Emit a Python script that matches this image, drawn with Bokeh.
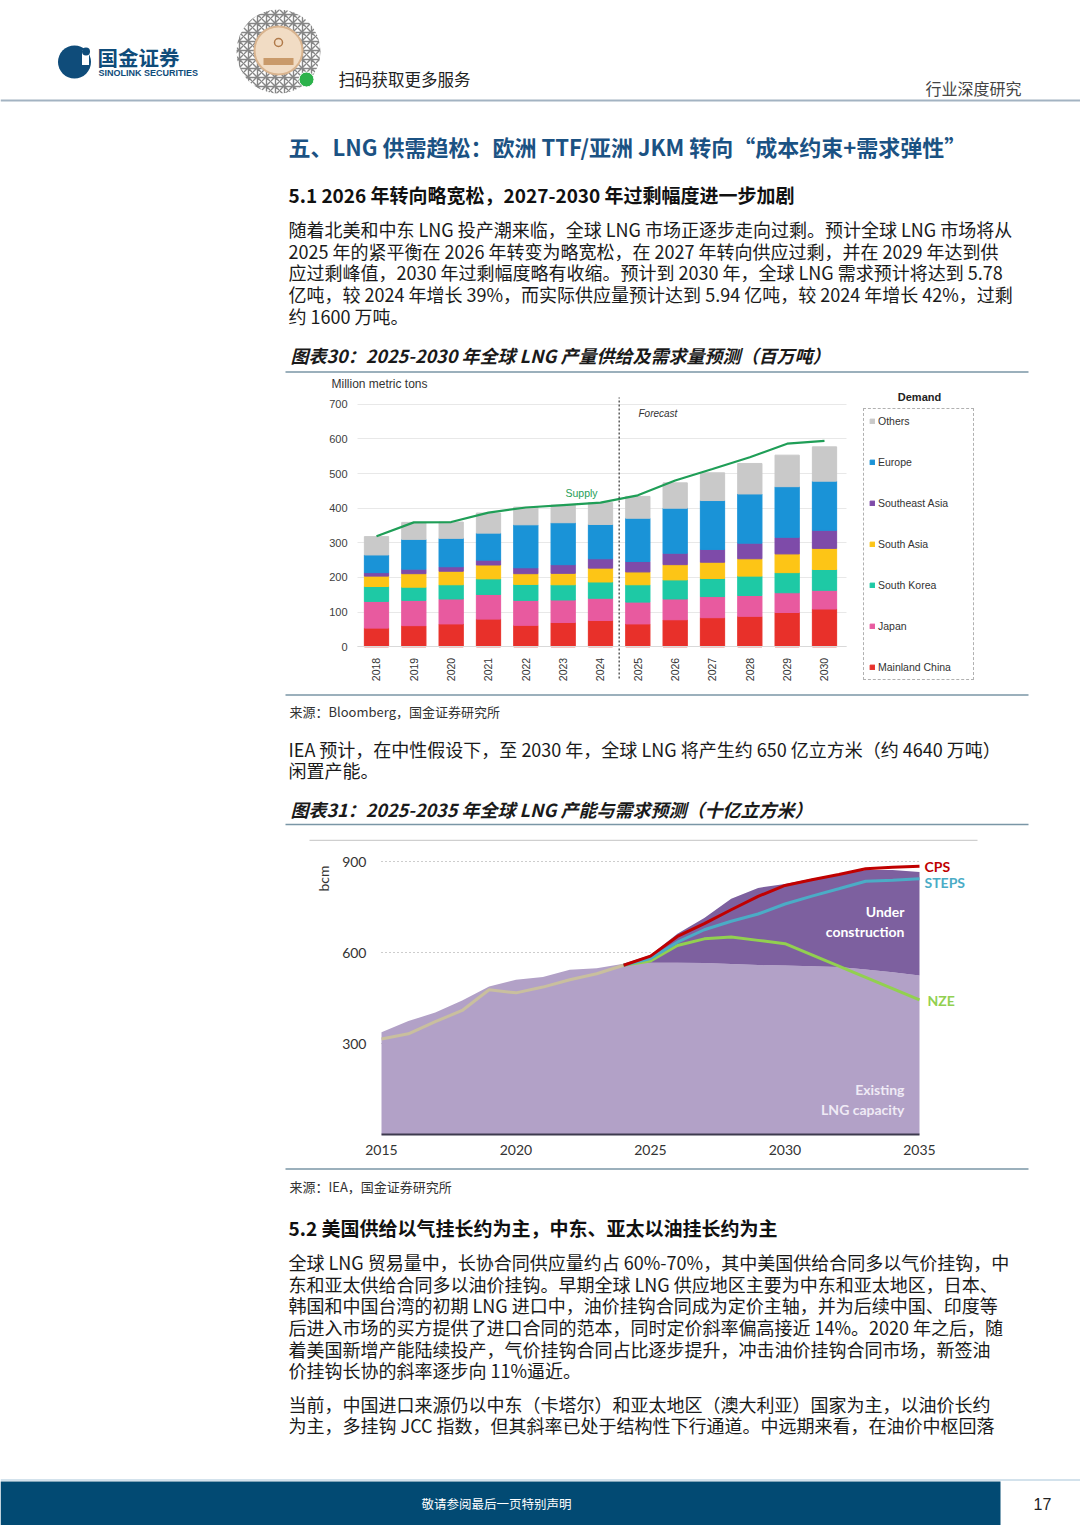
import math
from bokeh.plotting import figure
from bokeh.layouts import column, row
from bokeh.models import Range1d, ColumnDataSource, Legend, LegendItem, Label
from bokeh.core.properties import value
from bokeh.embed import file_html
from bokeh.resources import INLINE

CJK = "Noto Sans CJK SC"
ARIAL = "Liberation Sans"
CAL = "Lato"

# ---------------- Chart 30 data (million metric tons) ----------------
years_30 = [2018, 2019, 2020, 2021, 2022, 2023, 2024, 2025, 2026, 2027, 2028, 2029, 2030]
mainland_china = [54, 61, 66, 80, 62, 70, 76, 66, 78, 84, 88, 99, 109]
japan = [77, 73, 72, 71, 72, 65, 64, 63, 60, 61, 60, 57, 54]
south_korea = [43, 38, 41, 45, 46, 44, 47, 50, 55, 52, 56, 58, 60]
south_asia = [30, 39, 39, 40, 31, 33, 40, 37, 44, 47, 50, 54, 61]
southeast_asia = [10, 13, 13, 14, 17, 25, 27, 30, 33, 37, 45, 48, 52]
europe = [51, 86, 82, 78, 124, 121, 99, 125, 130, 141, 142, 146, 142]
others = [53, 49, 47, 58, 51, 51, 63, 63, 73, 80, 88, 91, 99]
supply = [319, 359, 360, 387, 402, 409, 416, 437, 480, 513, 547, 586, 594]
first_forecast_year = 2025
demand_names = ["Mainland China", "Japan", "South Korea", "South Asia", "Southeast Asia", "Europe", "Others"]
demand_colors = ["#e8302a", "#e85a9f", "#1ec9a5", "#fdc516", "#7e4ba9", "#1a93d7", "#c9c9c9"]
y_ticks_30 = [0, 100, 200, 300, 400, 500, 600, 700]

# ---------------- Chart 31 data (bcm) ----------------
cap_years = list(range(2015, 2036))
existing_capacity = [337, 374, 402, 442, 488, 510, 519, 543, 548, 563, 566, 566, 565, 562, 559, 557, 555, 552, 544, 535, 524]
uc_years = list(range(2024, 2036))
total_capacity = [563, 592, 662, 714, 777, 813, 826, 843, 859, 872, 872, 865]
hist_years = list(range(2015, 2025))
hist_demand = [315, 332, 372, 409, 477, 467, 486, 510, 530, 558]
scen_years = list(range(2024, 2036))
cps = [558, 588, 653, 695, 741, 785, 821, 840, 857, 876, 881, 884]
steps = [558, 580, 634, 675, 703, 727, 760, 786, 810, 835, 838, 843]
nze = [558, 572, 623, 645, 651, 640, 629, 592, 555, 518, 481, 444]
x_ticks_31 = [2015, 2020, 2025, 2030, 2035]
y_ticks_31 = [300, 600, 900]

# ---------------- page texts ----------------
title_text = "五、LNG 供需趋松：欧洲 TTF/亚洲 JKM 转向“成本约束+需求弹性”"
heading_51 = "5.1 2026 年转向略宽松，2027-2030 年过剩幅度进一步加剧"
para_1 = [
    "随着北美和中东 LNG 投产潮来临，全球 LNG 市场正逐步走向过剩。预计全球 LNG 市场将从",
    "2025 年的紧平衡在 2026 年转变为略宽松，在 2027 年转向供应过剩，并在 2029 年达到供",
    "应过剩峰值，2030 年过剩幅度略有收缩。预计到 2030 年，全球 LNG 需求预计将达到 5.78",
    "亿吨，较 2024 年增长 39%，而实际供应量预计达到 5.94 亿吨，较 2024 年增长 42%，过剩",
    "约 1600 万吨。",
]
caption_30 = "图表30：2025-2030 年全球 LNG 产量供给及需求量预测（百万吨）"
source_30 = "来源：Bloomberg，国金证券研究所"
para_iea = [
    "IEA 预计，在中性假设下，至 2030 年，全球 LNG 将产生约 650 亿立方米（约 4640 万吨）",
    "闲置产能。",
]
caption_31 = "图表31：2025-2035 年全球 LNG 产能与需求预测（十亿立方米）"
source_31 = "来源：IEA，国金证券研究所"
heading_52 = "5.2 美国供给以气挂长约为主，中东、亚太以油挂长约为主"
para_2 = [
    "全球 LNG 贸易量中，长协合同供应量约占 60%-70%，其中美国供给合同多以气价挂钩，中",
    "东和亚太供给合同多以油价挂钩。早期全球 LNG 供应地区主要为中东和亚太地区，日本、",
    "韩国和中国台湾的初期 LNG 进口中，油价挂钩合同成为定价主轴，并为后续中国、印度等",
    "后进入市场的买方提供了进口合同的范本，同时定价斜率偏高接近 14%。2020 年之后，随",
    "着美国新增产能陆续投产，气价挂钩合同占比逐步提升，冲击油价挂钩合同市场，新签油",
    "价挂钩长协的斜率逐步向 11%逼近。",
]
para_3 = [
    "当前，中国进口来源仍以中东（卡塔尔）和亚太地区（澳大利亚）国家为主，以油价长约",
    "为主，多挂钩 JCC 指数，但其斜率已处于结构性下行通道。中远期来看，在油价中枢回落",
]

PAGE_W = 1080
BODY = "18px"
HEAD = "19px"
CAPT = "18px"
SEC_LINE = "#7a96a6"


def page_fig(top, bottom):
    f = figure(width=PAGE_W, height=bottom - top, x_range=Range1d(0, PAGE_W),
               y_range=Range1d(bottom, top), output_backend="svg",
               toolbar_location=None, min_border=0, x_axis_type=None, y_axis_type=None)
    f.outline_line_color = None
    f.background_fill_color = "white"
    f.border_fill_color = "white"
    for g in f.grid:
        g.visible = False
    return f


def txt(f, xs, ys, texts, size, color="#1a1a1a", font=CJK, style="normal", align="left"):
    f.text(x=xs, y=ys, text=texts, text_font=value(font), text_font_size=size,
           text_color=color, text_font_style=style, text_align=align, text_baseline="middle")


def hline(f, x0, x1, y, color=SEC_LINE, width=1.5):
    f.segment(x0=[x0], y0=[y], x1=[x1], y1=[y], line_color=color, line_width=width)


# ================= F1: header + section 5.1 =================
f1 = page_fig(0, 373)
f1.circle(x=[74], y=[61.5], radius=16.5, fill_color="#0f4c7a", line_color=None)
f1.rect(x=[85], y=[57], width=7, height=15, fill_color="white", line_color=None)
f1.circle(x=[85.5], y=[51], radius=4, fill_color="#0f4c7a", line_color=None)
txt(f1, [97], [56], ["国金证券"], "20.5px", color="#0f4c7a", style="bold")
txt(f1, [98], [72], ["SINOLINK SECURITIES"], "9px", color="#0f4c7a", font=ARIAL, style="bold")
f1.circle(x=[278], y=[51], radius=42, fill_color="white", line_color=None,
          hatch_pattern="criss_cross", hatch_color="#222222", hatch_scale=9, hatch_weight=1.4, hatch_alpha=0.55)
f1.circle(x=[278], y=[50], radius=24, fill_color="#f1dcc4", line_color="#d9b48f", line_width=2)
f1.circle(x=[278], y=[42], radius=4, fill_color=None, line_color="#b07a4a", line_width=1.5)
f1.rect(x=[278], y=[61], width=30, height=7, fill_color="#c99a6a", line_color=None)
f1.circle(x=[306], y=[79], radius=7.5, fill_color="#2cb24b", line_color="white", line_width=1)
txt(f1, [338], [78], ["扫码获取更多服务"], "16.5px", color="#222222")
txt(f1, [925], [87], ["行业深度研究"], "16px", color="#444444")
hline(f1, 0, PAGE_W, 100, color="#a3b3c2", width=2)
txt(f1, [288], [145], [title_text], "22px", color="#1b5283", style="bold")
txt(f1, [288], [194], [heading_51], HEAD, color="#111111", style="bold")
txt(f1, [288] * 5, [228, 250, 271.5, 293, 315], para_1, BODY)
txt(f1, [290], [354], [caption_30], CAPT, color="#1a1a1a", style="bold italic")
hline(f1, 285, 1028, 371.5)

# ================= F2: chart 30 (frame = whole canvas) =================
F2_TOP, F2_BOT = 373, 693
X30_PX0, X30_STEP = 376.0, 37.333      # page px of first year, px per year
Y30_ZERO, Y30_SCALE = 646.3, 242.6 / 700.0


def fx30(px):
    return years_30[0] + (px - X30_PX0) / X30_STEP


def fy30(py):
    return (Y30_ZERO - py) / Y30_SCALE


f2 = figure(width=PAGE_W, height=F2_BOT - F2_TOP, output_backend="svg", toolbar_location=None,
            x_range=Range1d(fx30(0), fx30(PAGE_W)), y_range=Range1d(fy30(F2_BOT), fy30(F2_TOP)),
            min_border=0)
f2.outline_line_color = None
f2.background_fill_color = "white"
f2.border_fill_color = "white"
for g in f2.grid:
    g.visible = False
src30 = ColumnDataSource(dict(year=years_30, **{
    "Mainland China": mainland_china, "Japan": japan, "South Korea": south_korea,
    "South Asia": south_asia, "Southeast Asia": southeast_asia, "Europe": europe, "Others": others}))
bars = f2.vbar_stack(demand_names, x="year", width=0.65, color=demand_colors, source=src30)
f2.line(years_30, supply, line_color="#1f9e57", line_width=2.2)
divider = (first_forecast_year - 1 + first_forecast_year) / 2
f2.segment(x0=[divider], x1=[divider], y0=[fy30(678)], y1=[fy30(397)],
           line_color="#333333", line_dash="2 2", line_width=1.2)

xa = f2.xaxis[0]
xa.fixed_location = 0
xa.bounds = (fx30(357), fx30(846))
xa.ticker = years_30
xa.major_label_orientation = math.pi / 2
xa.major_label_text_font = ARIAL
xa.major_label_text_font_size = "10.5px"
xa.major_label_text_color = "#333333"
xa.major_label_standoff = 5
xa.axis_line_color = "#d9d9d9"
xa.major_tick_line_color = None
xa.minor_tick_line_color = None
ya = f2.yaxis[0]
ya.fixed_location = fx30(357)
ya.bounds = (0, 700)
ya.ticker = y_ticks_30
ya.level = "underlay"
ya.major_label_text_font = ARIAL
ya.major_label_text_font_size = "11px"
ya.major_label_text_color = "#404040"
ya.major_label_standoff = 10
ya.axis_line_color = None
ya.major_tick_in = 846 - 357      # ticks drawn across the plot act as the horizontal grid
ya.major_tick_out = 0
ya.major_tick_line_color = "#e8e8e8"
ya.minor_tick_line_color = None

f2.add_layout(Label(x=fx30(331), y=fy30(383), text="Million metric tons", text_font=ARIAL,
                    text_font_size="12px", text_color="#333333", text_baseline="middle"))
f2.add_layout(Label(x=fx30(638), y=fy30(413), text="Forecast", text_font=ARIAL, text_font_style="italic",
                    text_font_size="10px", text_color="#333333", text_baseline="middle"))
f2.add_layout(Label(x=fx30(581), y=fy30(492), text="Supply", text_font=ARIAL, text_align="center",
                    text_font_size="10.5px", text_color="#1f9e57", text_baseline="middle"))
f2.add_layout(Label(x=fx30(919), y=fy30(396), text="Demand", text_font=ARIAL, text_font_style="bold",
                    text_align="center", text_font_size="11px", text_color="#222222", text_baseline="middle"))
items = [LegendItem(label=n, renderers=[r]) for n, r in zip(demand_names, bars)][::-1]
leg = Legend(items=items, location=(863, F2_BOT - 680), glyph_width=6, glyph_height=6, label_height=14,
             spacing=27, padding=5, margin=0, label_standoff=3, label_width=90,
             label_text_font=ARIAL, label_text_font_size="10.5px", label_text_color="#333333",
             border_line_color="#666666", border_line_dash="1 1", border_line_width=1,
             background_fill_color="white", background_fill_alpha=1)
f2.add_layout(leg)

# ================= F3: source 30 + IEA text + caption 31 =================
f3 = page_fig(693, 841)
hline(f3, 285, 1028, 694.5)
txt(f3, [289], [711], [source_30], "13px", color="#333333")
txt(f3, [288, 288], [748, 769], para_iea, BODY)
txt(f3, [290], [808], [caption_31], CAPT, color="#1a1a1a", style="bold italic")
hline(f3, 285, 1028, 824)
hline(f3, 309, 977, 840, color="#cfcfcf", width=1.5)

# ================= F4: chart 31 (frame = whole canvas) =================
F4_TOP, F4_BOT = 841, 1166
X31_PX0, X31_STEP = 381.0, 26.9
Y31_ZERO, Y31_SCALE = 1134.0, 0.30333


def fx31(px):
    return cap_years[0] + (px - X31_PX0) / X31_STEP


def fy31(py):
    return (Y31_ZERO - py) / Y31_SCALE


f4 = figure(width=PAGE_W, height=F4_BOT - F4_TOP, output_backend="svg", toolbar_location=None,
            x_range=Range1d(fx31(0), fx31(PAGE_W)), y_range=Range1d(fy31(F4_BOT), fy31(F4_TOP)),
            min_border=0)
f4.outline_line_color = None
f4.background_fill_color = "white"
f4.border_fill_color = "white"
for g in f4.grid:
    g.visible = False
f4.varea(x=cap_years, y1=0, y2=existing_capacity, fill_color="#b2a1c7")
f4.varea(x=uc_years, y1=existing_capacity[cap_years.index(uc_years[0]):], y2=total_capacity, fill_color="#7d609f")
f4.line(hist_years, hist_demand, line_color="#c9bf9e", line_width=3)
f4.line(scen_years, nze, line_color="#92d050", line_width=3)
f4.line(scen_years, steps, line_color="#4bacc6", line_width=3)
f4.line(scen_years, cps, line_color="#c00000", line_width=3)

xb = f4.xaxis[0]
xb.fixed_location = 0
xb.bounds = (cap_years[0], cap_years[-1])
xb.ticker = x_ticks_31
xb.major_label_text_font = CAL
xb.major_label_text_font_size = "14px"
xb.major_label_text_color = "#333333"
xb.major_label_standoff = 4
xb.axis_line_color = "#3d3a4e"
xb.axis_line_width = 2
xb.major_tick_line_color = None
xb.minor_tick_line_color = None
yb = f4.yaxis[0]
yb.fixed_location = cap_years[0]
yb.bounds = (y_ticks_31[0], y_ticks_31[-1])
yb.ticker = y_ticks_31
yb.level = "underlay"
yb.major_label_text_font = CAL
yb.major_label_text_font_size = "14px"
yb.major_label_text_color = "#333333"
yb.major_label_standoff = 15
yb.axis_line_color = None
yb.major_tick_in = 919 - 381      # dotted ticks across the plot act as the grid
yb.major_tick_out = 0
yb.major_tick_line_color = "#9a9a9a"
yb.major_tick_line_dash = "1 3"
yb.minor_tick_line_color = None

f4.add_layout(Label(x=fx31(323), y=fy31(878), text="bcm", angle=math.pi / 2, text_font=CAL,
                    text_font_size="14px", text_color="#333333", text_align="center", text_baseline="middle"))
for t, px, py, c in [("CPS", 924, 866, "#c00000"), ("STEPS", 924, 882, "#4bacc6"), ("NZE", 927, 1000, "#92d050")]:
    f4.add_layout(Label(x=fx31(px), y=fy31(py), text=t, text_font=CAL, text_font_style="bold",
                        text_font_size="14px", text_color=c, text_baseline="middle"))
for t, py, c in [("Under", 911, "white"), ("construction", 931, "white"),
                 ("Existing", 1089, "#efeaf5"), ("LNG capacity", 1109, "#efeaf5")]:
    f4.add_layout(Label(x=fx31(904), y=fy31(py), text=t, text_font=CAL, text_font_style="bold",
                        text_font_size="14px", text_color=c, text_align="right", text_baseline="middle"))

# ================= F5: source 31 + section 5.2 + footer =================
f5 = page_fig(1166, 1525)
hline(f5, 285, 1028, 1168.5)
txt(f5, [289], [1186], [source_31], "13px", color="#333333")
txt(f5, [288], [1227], [heading_52], HEAD, color="#111111", style="bold")
txt(f5, [288] * 6, [1261, 1283, 1304.5, 1326, 1348, 1369], para_2, BODY)
txt(f5, [288] * 2, [1403, 1424], para_3, BODY)
hline(f5, 0, PAGE_W, 1479.5, color="#c4d8e6", width=1.5)
f5.quad(left=[0], right=[1000], top=[1481], bottom=[1525], fill_color="#024a73", line_color=None)
txt(f5, [496], [1503], ["敬请参阅最后一页特别声明"], "12.5px", color="white", align="center")
txt(f5, [1042], [1503], ["17"], "16px", color="#222222", font=ARIAL, align="center")

layout = column(row(f1), row(f2), row(f3), row(f4), row(f5), spacing=0)
open("out.html", "w").write(file_html(layout, INLINE))
